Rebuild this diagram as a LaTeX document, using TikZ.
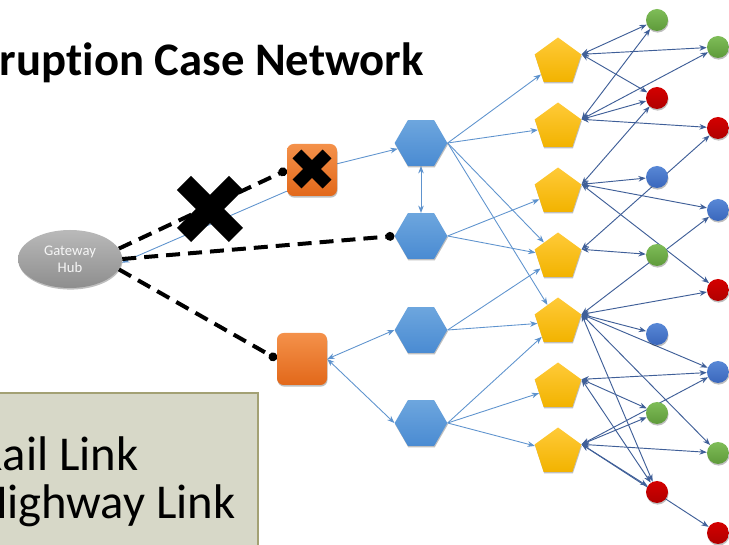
\documentclass[tikz,border=0pt]{standalone}
\usepackage{fontspec}
\setmainfont{Carlito}[Ligatures=NoCommon]
\usetikzlibrary{shapes.geometric,arrows.meta,shadows}

\definecolor{hexTop}{HTML}{6DA6DE}
\definecolor{hexBot}{HTML}{4A8BD2}
\definecolor{pentTop}{HTML}{FFCA38}
\definecolor{pentBot}{HTML}{F2B300}
\definecolor{orgTop}{HTML}{F4914A}
\definecolor{orgBot}{HTML}{E2681A}
\definecolor{grnTop}{HTML}{7FBD58}
\definecolor{grnBot}{HTML}{5E9A3A}
\definecolor{redTop}{HTML}{D40000}
\definecolor{redBot}{HTML}{B00000}
\definecolor{bluTop}{HTML}{5888D6}
\definecolor{bluBot}{HTML}{3A67BC}
\definecolor{hubTop}{HTML}{B9B9B9}
\definecolor{hubBot}{HTML}{8E8E8E}
\definecolor{hexLine}{HTML}{5E93CE}
\definecolor{dotLine}{HTML}{3F5F98}
\definecolor{legFill}{HTML}{D7D8C8}
\definecolor{legDraw}{HTML}{A3A174}

\pgfdeclarelayer{bg}
\pgfdeclarelayer{edges}
\pgfsetlayers{bg,edges,main}

\begin{document}
\begin{tikzpicture}[x=0.75pt,y=-0.75pt,
  >={Stealth[length=5.5pt,width=4.2pt]},
  softshadow/.style={drop shadow={shadow xshift=0.4pt,shadow yshift=-1.2pt,opacity=0.25,fill=black}},
  hexnode/.style={regular polygon,regular polygon sides=6,minimum size=39.5pt,inner sep=0pt,
    top color=hexTop,bottom color=hexBot,softshadow},
  pentnode/.style={regular polygon,regular polygon sides=5,minimum size=36.75pt,inner sep=0pt,
    top color=pentTop,bottom color=pentBot,softshadow},
  orgnode/.style={rectangle,rounded corners=5pt,minimum width=37.5pt,minimum height=39pt,inner sep=0pt,
    top color=orgTop,bottom color=orgBot,softshadow},
  dotnode/.style={circle,minimum size=16.5pt,inner sep=0pt,softshadow},
  grn/.style={dotnode,top color=grnTop,bottom color=grnBot},
  red/.style={dotnode,top color=redTop,bottom color=redBot},
  blu/.style={dotnode,top color=bluTop,bottom color=bluBot},
  hubnode/.style={ellipse,minimum width=78pt,minimum height=43.5pt,inner sep=0pt,
    top color=hubTop,bottom color=hubBot,softshadow,text=white!93!gray,align=center,
    font=\fontsize{11}{12.5}\selectfont},
  hexedge/.style={draw=hexLine,line width=0.65pt},
  dotedge/.style={draw=dotLine,line width=0.7pt},
  cutlink/.style={draw=black,line width=3pt,dash pattern=on 10.5pt off 6pt,-{Circle[length=6.5pt]}},
  xmark/.style={draw=black,line cap=butt},
  bigtext/.style={anchor=base east,inner sep=0pt,font=\fontsize{36.5}{36.5}\selectfont}
]
\useasboundingbox (0,0) rectangle (729,545);
\begin{pgfonlayer}{bg}
  \fill[white] (0,0) rectangle (729,545);
\end{pgfonlayer}
\clip (0,0) rectangle (729,545);

% title and legend
\node[bigtext,font=\bfseries\fontsize{35}{35}\selectfont] (title) at (424,76) {Disruption Case Network};
\draw[fill=legFill,draw=legDraw,line width=1.2pt] (-20,393) rectangle (258,580);
\node[bigtext] (rail) at (139,470) {Rail Link};
\node[bigtext] (hwy) at (236,518) {Highway Link};

% hub and terminals
\node[hubnode] (hub) at (70,259) {Gateway\\Hub};
\node[orgnode] (O1) at (312,170) {};
\node[orgnode] (O2) at (302,359) {};

% hexagon tier
\node[hexnode] (H1) at (421,143) {};
\node[hexnode] (H2) at (421,236) {};
\node[hexnode] (H3) at (421,330) {};
\node[hexnode] (H4) at (421,423) {};

% pentagon tier
\foreach \i in {1,...,7}
  \node[pentnode] (P\i) at (558,{62+65*(\i-1)}) {};

% end points
\node[grn] (Ga) at (657,20) {};
\node[grn] (Gb) at (718,47) {};
\node[red] (Ra) at (657,98) {};
\node[red] (Rb) at (718,128) {};
\node[blu] (Ba) at (657,177) {};
\node[blu] (Bb) at (718,210) {};
\node[grn] (Gc) at (657,255) {};
\node[red] (Rc) at (718,290) {};
\node[blu] (Bc) at (657,334) {};
\node[blu] (Bd) at (718,372) {};
\node[grn] (Gd) at (657,413) {};
\node[grn] (Ge) at (718,453) {};
\node[red] (Rd) at (657,492) {};
\node[red] (Re) at (718,533) {};

\begin{pgfonlayer}{edges}
  % links from the terminals
  \draw[hexedge,->] (O1.220) -- (hub.-4);
  \draw[hexedge,->] (O1) -- (H1);
  \draw[hexedge,<->] (H1) -- (H2);
  \draw[hexedge,<->] (O2.east) -- (H3.west);
  \draw[hexedge,<->] (O2.east) -- (H4.west);
  % hexagons to pentagons
  \foreach \h/\p in {H1/P1,H1/P2,H1/P4,H1/P5,H2/P3,H2/P4,H3/P4,H3/P5,H4/P5,H4/P6,H4/P7}
    \draw[hexedge,->] (\h.east) -- (\p);
  % pentagons to end points
  \foreach \p/\c in {P1/Ga,P1/Gb,P1/Ra,P2/Ga,P2/Gb,P2/Ra,P2/Rb,
                     P3/Ra,P3/Ba,P3/Bb,P3/Rc,P4/Rb,P4/Gc,
                     P5/Bb,P5/Rc,P5/Bc,P5/Bd,P5/Rd,P5/Ge,
                     P6/Bd,P6/Gd,P6/Rd,
                     P7/Bd,P7/Gd,P7/Ge,P7/Rd,P7/Re}
    \draw[dotedge,<->] (\p.18) -- (\c);
  % broken gateway links
  \draw[cutlink] (hub.12) -- (O1.west);
  \draw[cutlink] (hub.0) -- (H2.west);
  \draw[cutlink] (hub.-12) -- (O2.west);
\end{pgfonlayer}

% failure marks
\draw[xmark,line width=15pt] (184,183) -- (236,235) (184,235) -- (236,183);
\draw[xmark,line width=9.5pt] (297,154) -- (327,184) (297,184) -- (327,154);
\end{tikzpicture}
\end{document}
